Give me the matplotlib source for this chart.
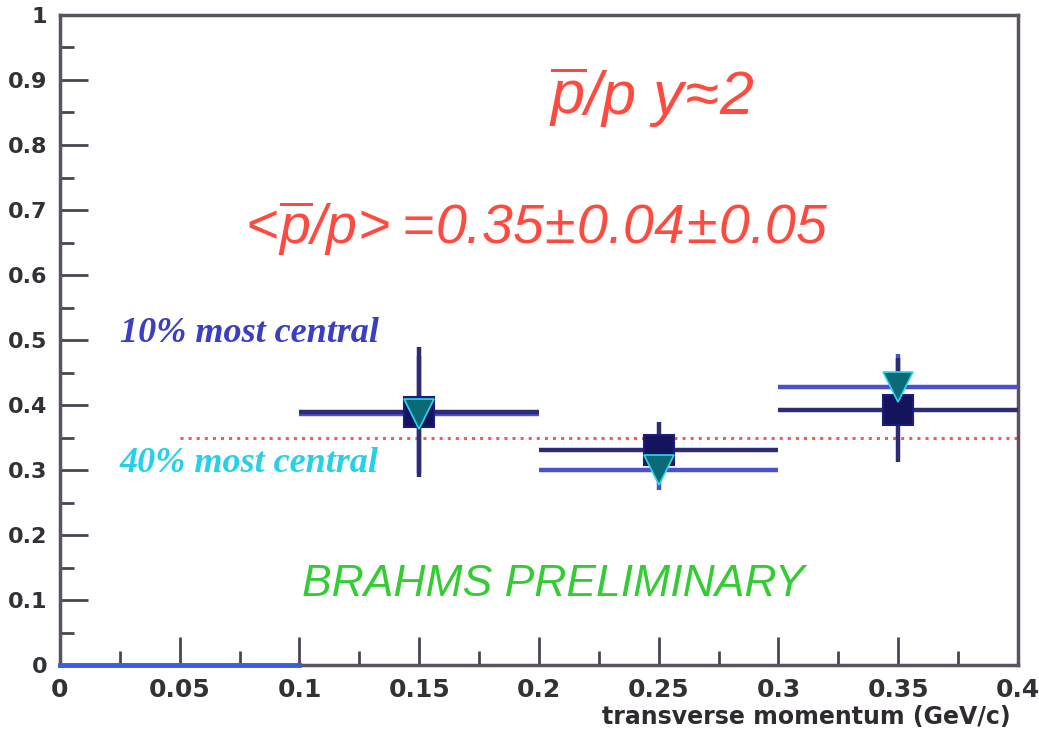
import numpy as np
import matplotlib
matplotlib.use("Agg")
import matplotlib.pyplot as plt
from matplotlib.ticker import MultipleLocator

# everything in math mode comes out in italic Liberation Sans
plt.rcParams['mathtext.fontset'] = 'custom'
plt.rcParams['mathtext.rm'] = 'Liberation Sans:italic'
plt.rcParams['mathtext.it'] = 'Liberation Sans:italic'

# pbar/p ratio vs pt, two centrality classes
pt = [0.15, 0.25, 0.35]
pt_halfwidth = [0.05, 0.05, 0.05]

ratio_10 = [0.390, 0.331, 0.392]
err_10 = [0.100, 0.043, 0.080]

ratio_40 = [0.386, 0.300, 0.428]
err_40 = [0.090, 0.030, 0.050]

mean_ratio = 0.35
mean_xrange = [0.05, 0.4]
empty_bins = [0.0, 0.1]

fig = plt.figure(figsize=(10.39, 7.35), dpi=100)
ax = fig.add_axes([0.0577, 0.0952, 0.9221, 0.8844])

# horizontal bins + vertical errors
ax.errorbar(pt, ratio_40, xerr=pt_halfwidth, yerr=err_40, fmt='none',
            ecolor='#4a50d0', elinewidth=3.2, capsize=0, zorder=3)
ax.errorbar(pt, ratio_10, xerr=pt_halfwidth, yerr=err_10, fmt='none',
            ecolor='#2c2c72', elinewidth=3.2, capsize=0, zorder=3)

ax.plot(pt, ratio_10, 's', ms=21, color='#14145c', mec='#1c1c80', mew=1.5,
        zorder=4)
ax.plot(pt, ratio_40, 'v', ms=21, color='#0a6a78', mec='#30d8e8', mew=1.2,
        zorder=5)

# mean value
ax.plot(mean_xrange, [mean_ratio, mean_ratio], ':', color='#ff5a4a', lw=2.2,
        zorder=2)
# empty low-pt bins
ax.plot(empty_bins, [0, 0], color='#3c5ce0', lw=3.5, zorder=6, clip_on=False)

ax.set_xlim(0, 0.4)
ax.set_ylim(0, 1)

ax.xaxis.set_major_locator(MultipleLocator(0.05))
ax.xaxis.set_minor_locator(MultipleLocator(0.025))
ax.yaxis.set_major_locator(MultipleLocator(0.1))
ax.yaxis.set_minor_locator(MultipleLocator(0.05))
ax.tick_params(which='both', direction='in', colors='#4a4450', width=2,
               top=False, right=False)
ax.tick_params(which='major', length=20)
ax.tick_params(which='minor', length=10)
ax.tick_params(axis='y', labelsize=16, pad=9)
ax.tick_params(axis='x', labelsize=18, pad=9)

ax.set_yticks(np.arange(0, 1.01, 0.1))
ax.set_yticklabels(['0', '0.1', '0.2', '0.3', '0.4', '0.5', '0.6', '0.7',
                    '0.8', '0.9', '1'])
ax.set_xticks(np.arange(0, 0.401, 0.05))
ax.set_xticklabels(['0', '0.05', '0.1', '0.15', '0.2', '0.25', '0.3',
                    '0.35', '0.4'])
for lab in ax.get_yticklabels():
    lab.set_fontweight('bold')
    lab.set_color('#333036')
for lab in ax.get_xticklabels():
    lab.set_fontweight('bold')
    lab.set_color('#333036')

for side in ['left', 'bottom', 'top', 'right']:
    ax.spines[side].set_linewidth(2.5)
    ax.spines[side].set_color('#5a5260')

ax.text(0.992, -0.08, 'transverse momentum (GeV/c)', transform=ax.transAxes,
        ha='right', va='center', fontsize=17, fontweight='bold',
        color='#2e2a30')

red = '#ff4a40'
ax.text(0.247, 0.873, r'$\overline{p}/p\ y\!\approx\!2$',
        ha='center', va='center', fontsize=44, color=red)
ax.text(0.197, 0.672,
        r'$<\!\overline{p}/p\!>\!=\!0.35\!\pm\!0.04\!\pm\!0.05$',
        ha='center', va='center', fontsize=40, color=red)

ax.text(0.025, 0.51, '10% most central', fontsize=26, fontweight='bold',
        style='italic', family='Liberation Serif', color='#3a3ec4',
        va='center')
ax.text(0.025, 0.31, '40% most central', fontsize=26, fontweight='bold',
        style='italic', family='Liberation Serif', color='#26d0ea',
        va='center')

ax.text(0.206, 0.124, 'BRAHMS PRELIMINARY', fontsize=32, style='italic',
        family='Liberation Sans', color='#33cc33', ha='center', va='center')

fig.savefig('out.png', dpi=100)
